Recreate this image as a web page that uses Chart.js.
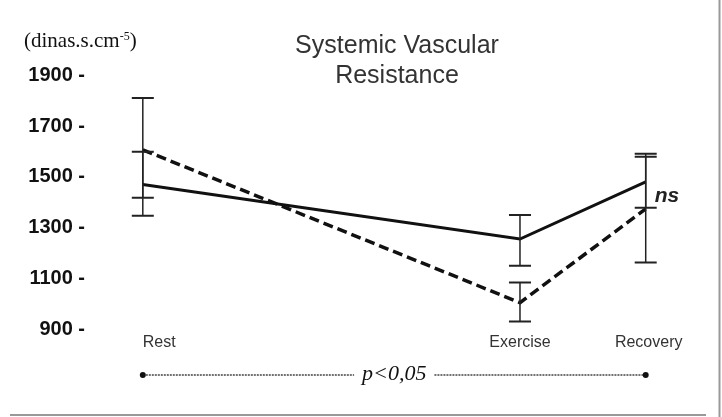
<!DOCTYPE html>
<html lang="en">
<head>
    <meta charset="UTF-8">
    <title>Systemic Vascular Resistance</title>
    <script src="https://cdn.jsdelivr.net/npm/chart.js"></script>
    <style>
        body { margin: 0; background: #fff; }
        canvas { display: block; }
    </style>
</head>
<body>
    <canvas id="svrChart" width="722" height="417"></canvas>

    <script>
        // Time points (x position) and labels
        const categories = ['Rest', 'Exercise', 'Recovery'];
        const xPos = [0, 3, 4];

        // Solid line series + error range
        const solidValues = [1470, 1255, 1480];
        const solidLow = [1347, 1150, 1378];
        const solidHigh = [1599, 1350, 1579];

        // Dashed line series + error range
        const dashedValues = [1607, 1004, 1374];
        const dashedLow = [1418, 930, 1162];
        const dashedHigh = [1811, 1083, 1591];

        const yTicks = [900, 1100, 1300, 1500, 1700, 1900];

        const toPoints = vals => vals.map((v, i) => ({ x: xPos[i], y: v }));

        // error bars, labels, annotations
        const extras = {
            id: 'extras',
            afterDatasetsDraw(chart) {
                const { ctx, scales: { x, y } } = chart;
                ctx.save();
                ctx.strokeStyle = '#222';
                [[solidLow, solidHigh], [dashedLow, dashedHigh]].forEach(([lo, hi]) => {
                    xPos.forEach((xv, i) => {
                        const px = x.getPixelForValue(xv);
                        const y1 = y.getPixelForValue(lo[i]);
                        const y2 = y.getPixelForValue(hi[i]);
                        ctx.lineWidth = 1.5;
                        ctx.beginPath();
                        ctx.moveTo(px, y1);
                        ctx.lineTo(px, y2);
                        ctx.stroke();
                        ctx.lineWidth = 2;
                        ctx.beginPath();
                        ctx.moveTo(px - 11, y1); ctx.lineTo(px + 11, y1);
                        ctx.moveTo(px - 11, y2); ctx.lineTo(px + 11, y2);
                        ctx.stroke();
                    });
                });
                ctx.restore();
            },
            afterDraw(chart) {
                const { ctx, scales: { x, y } } = chart;
                ctx.save();

                // title
                ctx.fillStyle = '#333';
                ctx.font = '25px "Liberation Sans", Arial, sans-serif';
                ctx.textAlign = 'center';
                ctx.textBaseline = 'alphabetic';
                ctx.fillText('Systemic Vascular', 397, 53);
                ctx.fillText('Resistance', 397, 83);

                // unit label
                ctx.fillStyle = '#111';
                ctx.textAlign = 'left';
                ctx.font = '21px "Liberation Serif", "Times New Roman", serif';
                let ux = 24;
                ctx.fillText('(dinas.s.cm', ux, 47);
                ux += ctx.measureText('(dinas.s.cm').width;
                ctx.font = '12px "Liberation Serif", serif';
                ctx.fillText('-5', ux, 40);
                ux += ctx.measureText('-5').width;
                ctx.font = '21px "Liberation Serif", serif';
                ctx.fillText(')', ux, 47);

                // category labels
                ctx.fillStyle = '#333';
                ctx.font = '16px "Liberation Sans", Arial, sans-serif';
                categories.forEach((c, i) => {
                    const px = x.getPixelForValue(xPos[i]);
                    ctx.textAlign = i === 0 ? 'left' : 'center';
                    ctx.fillText(c, i === 2 ? px + 3 : px, 347);
                });

                // ns
                const rx = x.getPixelForValue(xPos[2]);
                ctx.fillStyle = '#222';
                ctx.textAlign = 'left';
                ctx.textBaseline = 'middle';
                ctx.font = 'italic bold 21px "Liberation Sans", Arial, sans-serif';
                ctx.fillText('ns', rx + 9, y.getPixelForValue(1425));

                // p<0,05 bracket
                const lx = x.getPixelForValue(xPos[0]);
                const py = 375;
                ctx.font = 'italic 22px "Liberation Serif", "Times New Roman", serif';
                ctx.textAlign = 'center';
                ctx.textBaseline = 'alphabetic';
                ctx.fillStyle = '#111';
                const mid = (lx + rx) / 2;
                const tw = ctx.measureText('p<0,05').width;
                ctx.fillText('p<0,05', mid, 380);
                ctx.strokeStyle = '#444';
                ctx.lineWidth = 1.5;
                ctx.setLineDash([2, 1]);
                ctx.beginPath();
                ctx.moveTo(lx, py); ctx.lineTo(mid - tw / 2 - 8, py);
                ctx.moveTo(mid + tw / 2 + 8, py); ctx.lineTo(rx, py);
                ctx.stroke();
                ctx.setLineDash([]);
                ctx.fillStyle = '#111';
                [lx, rx].forEach(px => {
                    ctx.beginPath();
                    ctx.arc(px, py, 3, 0, Math.PI * 2);
                    ctx.fill();
                });

                // frame lines
                ctx.strokeStyle = '#999';
                ctx.lineWidth = 2;
                ctx.beginPath();
                ctx.moveTo(719.5, 0); ctx.lineTo(719.5, 417);
                ctx.moveTo(10, 415); ctx.lineTo(706, 415);
                ctx.stroke();

                ctx.restore();
            }
        };

        new Chart(document.getElementById('svrChart'), {
            type: 'line',
            data: {
                datasets: [
                    {
                        label: 'solid',
                        data: toPoints(solidValues),
                        borderColor: '#111',
                        borderWidth: 3,
                        pointRadius: 0,
                        tension: 0
                    },
                    {
                        label: 'dashed',
                        data: toPoints(dashedValues),
                        borderColor: '#111',
                        borderWidth: 3.5,
                        borderDash: [10, 5],
                        pointRadius: 0,
                        tension: 0
                    }
                ]
            },
            options: {
                responsive: false,
                animation: false,
                devicePixelRatio: 1,
                layout: { padding: { top: 40, bottom: 16, right: 26, left: 0 } },
                plugins: {
                    legend: { display: false },
                    tooltip: { enabled: false }
                },
                scales: {
                    x: {
                        type: 'linear',
                        min: -0.42,
                        max: 4.4,
                        display: false
                    },
                    y: {
                        min: 620,
                        max: 2040,
                        afterFit: scale => { scale.width = 90; },
                        afterBuildTicks: scale => {
                            scale.ticks = yTicks.map(v => ({ value: v }));
                        },
                        ticks: {
                            padding: 5,
                            color: '#111',
                            font: { family: '"Liberation Sans", Arial, sans-serif', size: 20, weight: 'bold' },
                            callback: v => v + ' -'
                        },
                        grid: { display: false, drawTicks: false },
                        border: { display: false }
                    }
                }
            },
            plugins: [extras]
        });
    </script>
</body>
</html>
